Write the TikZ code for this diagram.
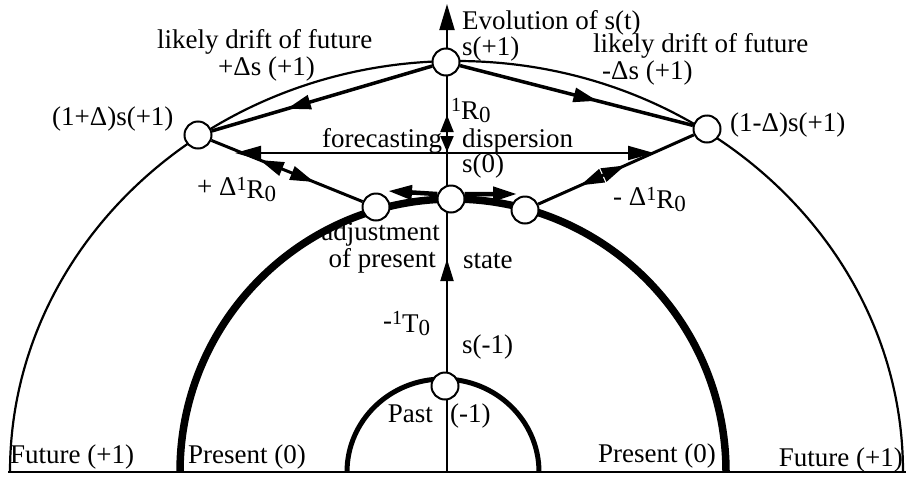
\documentclass[tikz,border=0pt]{standalone}
\usepackage{fontspec}
\setmainfont{Liberation Serif}
\usetikzlibrary{arrows.meta,decorations.markings}
\newcommand{\RRsup}[1]{\raisebox{5pt}{\fontsize{20}{20}\selectfont 1}\raisebox{-3pt}{#1\raisebox{-3pt}{\fontsize{23}{23}\selectfont 0}}}
\begin{document}
\begin{tikzpicture}[x=1pt,y=-1pt,
  lbl/.style={inner sep=0pt, font=\fontsize{27}{30}\selectfont},
  stnode/.style={circle, draw, line width=2pt, fill=white, minimum size=27pt, inner sep=0pt},
  >={Triangle[length=24pt,width=14pt]},
  fwdmark/.style={postaction={decorate, decoration={markings, mark=at position #1 with {\arrow{>}}}}},
  bwdmark/.style={postaction={decorate, decoration={markings, mark=at position #1 with {\arrowreversed{>}}}}}]
\useasboundingbox (0,0) rectangle (909,477);
\coordinate (bl) at (8,472);
\coordinate (br) at (906,472);
\coordinate (o) at (447,472);
\coordinate (top) at (447,4);
% base line and arcs
\draw[line width=2pt] (bl) -- (br);
\draw[line width=2.2pt] (10,472) arc[start angle=180,end angle=360,x radius=446.5,y radius=411];
\draw[line width=7.5pt] (180,472) arc[start angle=180,end angle=360,x radius=273,y radius=273];
\draw[line width=5pt] (347,472) arc[start angle=180,end angle=360,x radius=96,y radius=93];
% axis
\draw[line width=2pt,-{Triangle[length=26pt,width=15pt]}] (o) -- (top);
% nodes
\node[stnode] (sp1) at (446,62) {};
\node[stnode] (pd) at (198,135) {};
\node[stnode] (md) at (707,129) {};
\node[stnode] (s0) at (451,199) {};
\node[stnode] (sl) at (376,207) {};
\node[stnode] (sr) at (525,210) {};
\node[stnode] (sm1) at (445,386) {};
% axis heads
\coordinate (u1) at (447,284); \coordinate (u2) at (447,259);
\draw[line width=2pt,-{Triangle[length=22pt,width=13pt]}] (u1) -- (u2);
\coordinate (r1) at (447,136); \coordinate (r2) at (447,115);
\draw[line width=2pt,-{Triangle[length=17pt,width=13pt]}] (r1) -- (r2);
\coordinate (d1) at (447,134); \coordinate (d2) at (447,152);
\draw[line width=2pt,-{Triangle[length=16pt,width=13pt]}] (d1) -- (d2);
% forecasting dispersion
\coordinate (fl) at (235,153); \coordinate (fr) at (654,153);
\draw[line width=2pt,{Triangle[length=26pt,width=14pt]}-{Triangle[length=26pt,width=14pt]}] (fl) -- (fr);
% drift lines
\draw[line width=3.5pt, fwdmark=0.66] (sp1) -- (pd);
\draw[line width=3.5pt, fwdmark=0.59] (sp1) -- (md);
\draw[line width=3pt, bwdmark=0.32, fwdmark=0.68] (sl) -- (pd);
\draw[line width=3pt, bwdmark=0.27, fwdmark=0.56] (sr) -- (md);
% adjustment arrows
\coordinate (tl) at (388,191); \coordinate (tr) at (517,194);
\draw[line width=4.5pt,->] (s0.160) -- (tl);
\draw[line width=4.5pt,->] (s0.20) -- (tr);
% labels
\node[lbl,anchor=base west] (evo) at (462,29) {Evolution of s(t)};
\node[lbl,anchor=base west] (lsp1) at (462,55) {s(+1)};
\node[lbl,anchor=base west] (ldl) at (157,48) {likely drift of future};
\node[lbl,anchor=base west] (ldsl) at (218,75) {+Δs (+1)};
\node[lbl,anchor=base west] (ldr) at (593,52) {likely drift of future};
\node[lbl,anchor=base west] (ldsr) at (602,79) {-Δs (+1)};
\node[lbl,anchor=base west] (lpd) at (52,125) {(1+Δ)s(+1)};
\node[lbl,anchor=base west] (lmd) at (730,131) {(1-Δ)s(+1)};
\node[lbl,anchor=base west] (lr0) at (451,116) {\RRsup{R}};
\node[lbl,anchor=base west] (lfc) at (322,147) {forecasting};
\node[lbl,anchor=base west] (ldp) at (462,147) {dispersion};
\node[lbl,anchor=base west] (ls0) at (462,172) {s(0)};
\node[lbl,anchor=base west] (lpr) at (197,195) {+ Δ\RRsup{R}};
\node[lbl,anchor=base west] (lmr) at (613,205) {- Δ\RRsup{R}};
\node[lbl,anchor=base east] (ladj) at (440,240) {adjustment};
\node[lbl,anchor=base east] (lop) at (436,267) {of present};
\node[lbl,anchor=base west] (lst) at (463,268) {state};
\node[lbl,anchor=base west] (lt0) at (383,329) {-\RRsup{T}};
\node[lbl,anchor=base west] (lsm1) at (462,353) {s(-1)};
\node[lbl,anchor=base east] (lpast) at (433,422) {Past};
\node[lbl,anchor=base west] (lm1) at (450,422) {(-1)};
\node[lbl,anchor=base west] (lf1) at (10,463) {Future (+1)};
\node[lbl,anchor=base west] (lp1) at (188,463) {Present (0)};
\node[lbl,anchor=base west] (lp2) at (598,462) {Present (0)};
\node[lbl,anchor=base east] (lf2) at (903,466) {Future (+1)};
\end{tikzpicture}
\end{document}
